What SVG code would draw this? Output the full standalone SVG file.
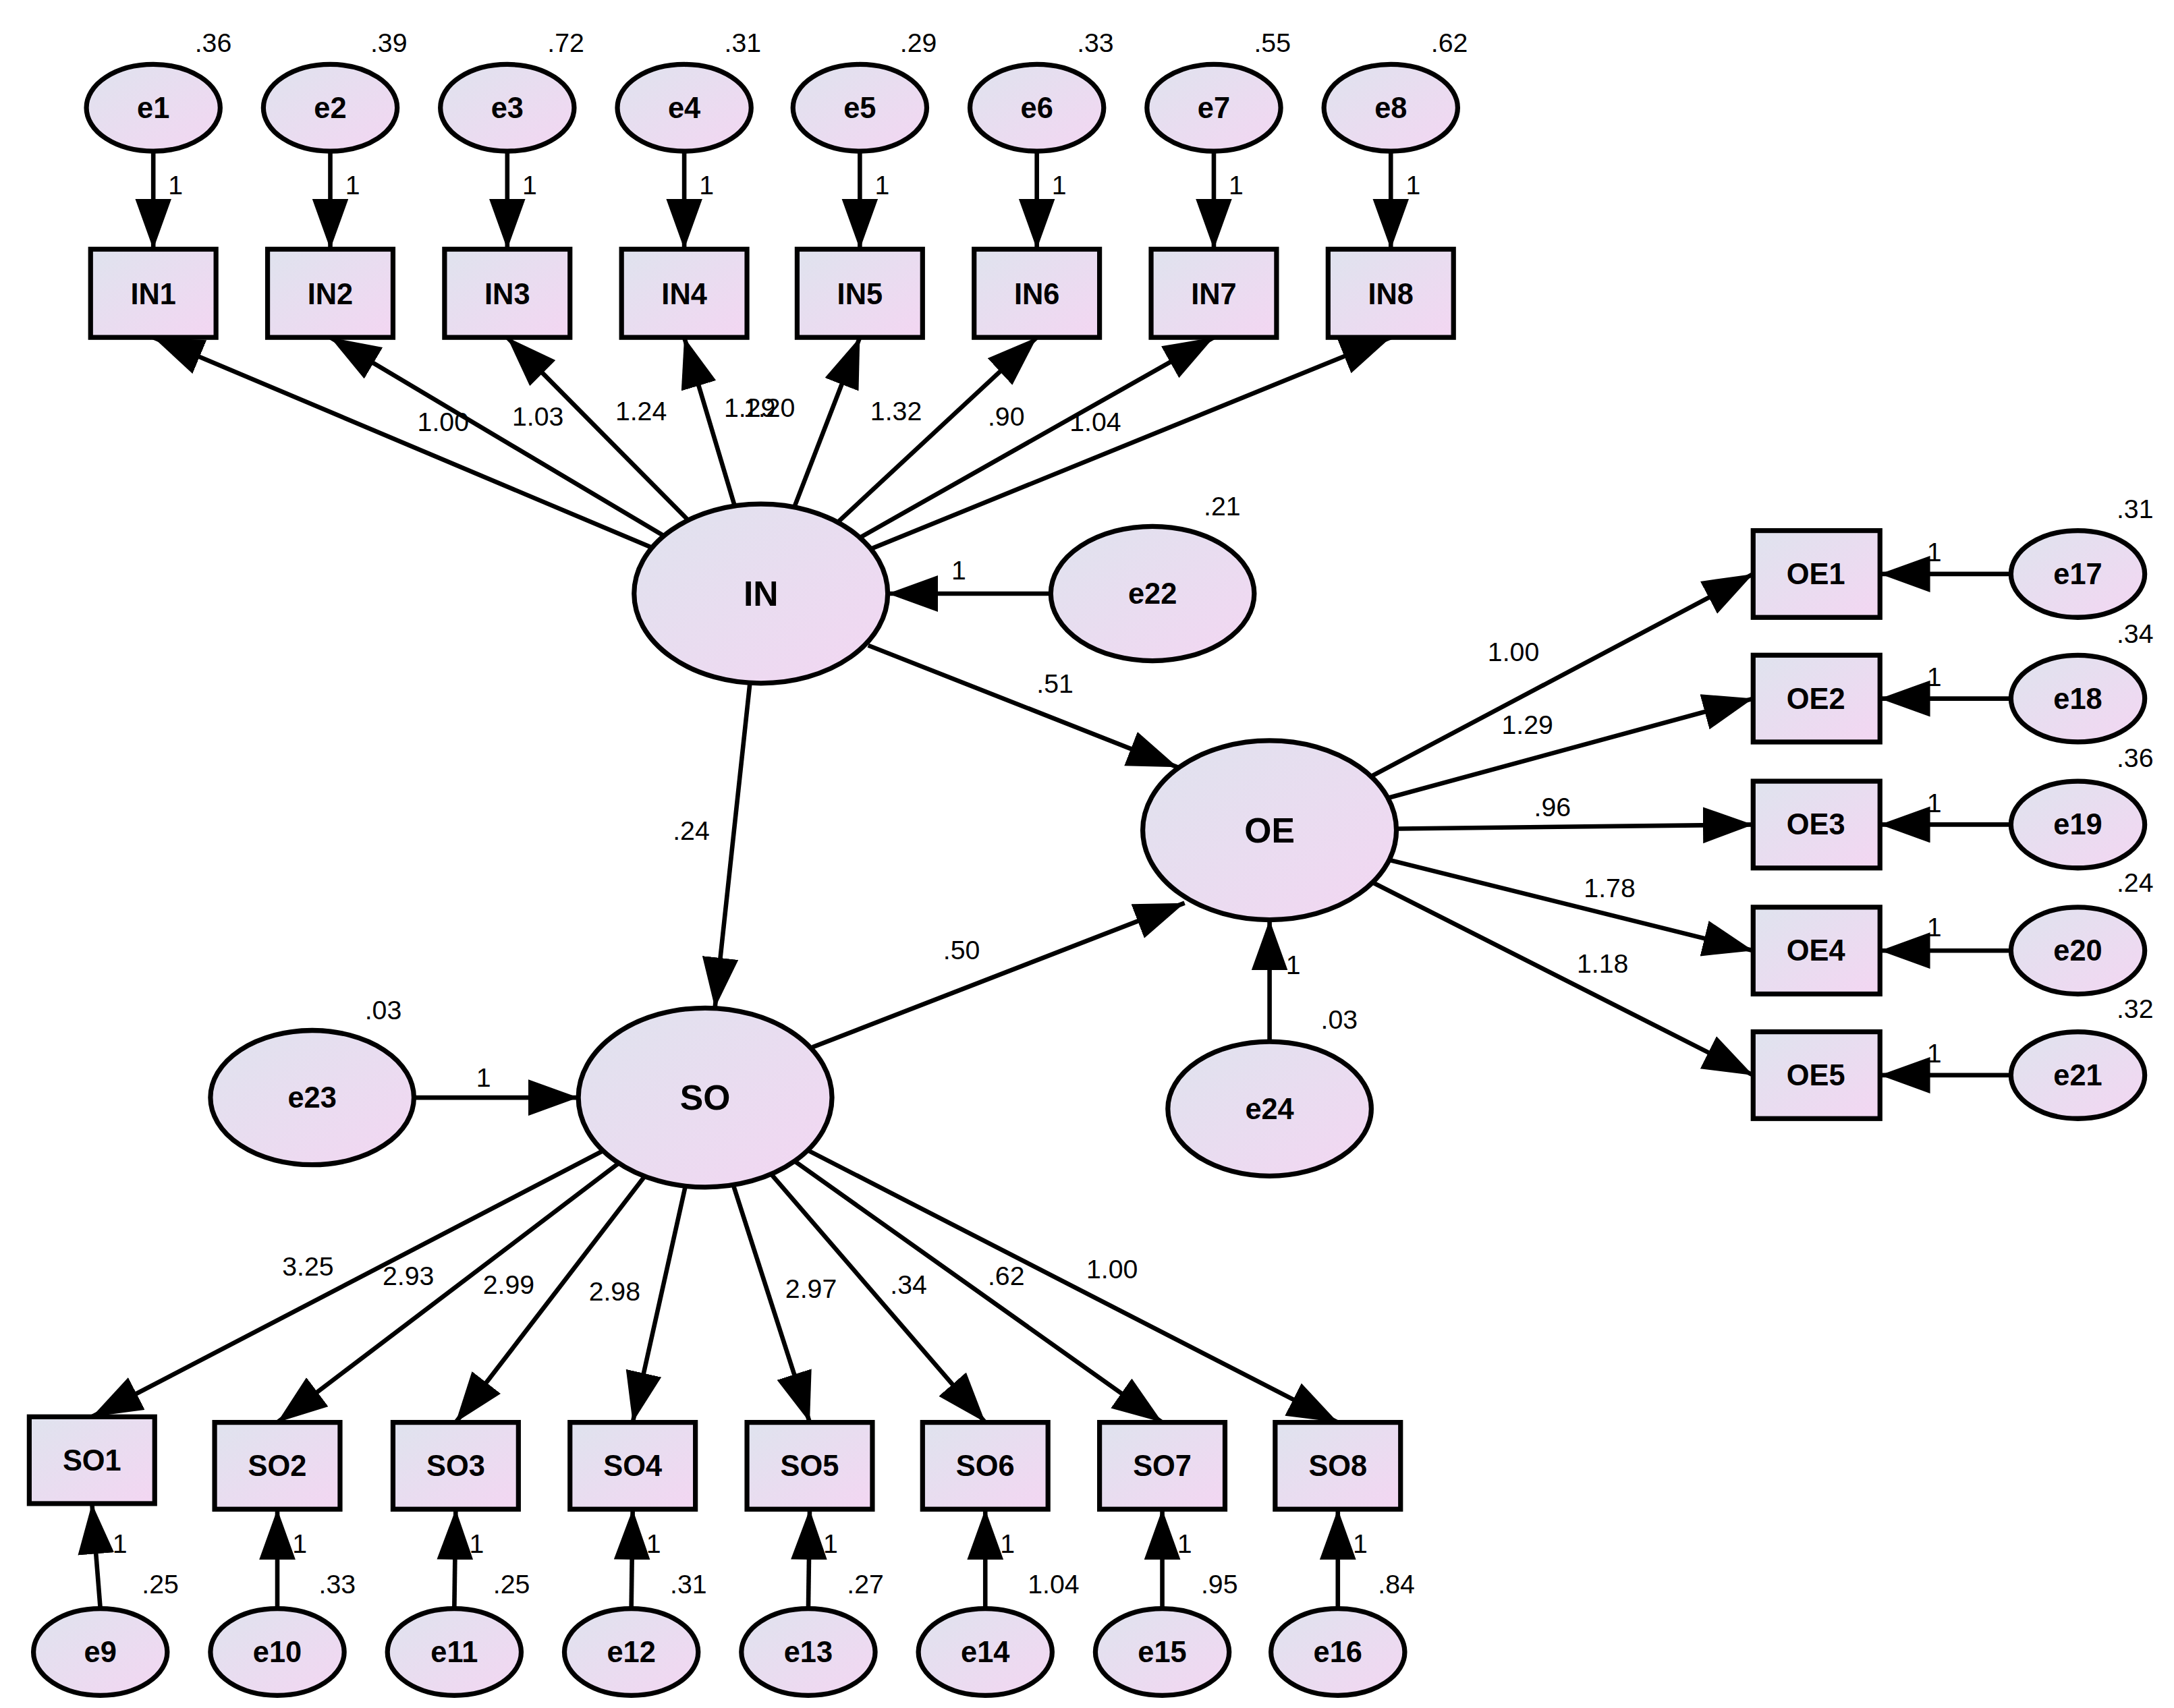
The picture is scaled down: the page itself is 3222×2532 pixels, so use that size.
<svg xmlns="http://www.w3.org/2000/svg" width="3222" height="2532" viewBox="0 0 3222 2532">
<style>
.n{fill:url(#g);stroke:#000;stroke-width:3.5}
.t{font-family:"Liberation Sans",Arial,sans-serif;font-weight:bold;font-size:21px;text-anchor:middle;dominant-baseline:central}
.tb{font-family:"Liberation Sans",Arial,sans-serif;font-weight:bold;font-size:25px;text-anchor:middle;dominant-baseline:central}
.l{font-family:"Liberation Sans",Arial,sans-serif;font-size:19px;text-anchor:middle;fill:#000}
.c{stroke:#000;stroke-width:3.2;fill:none;marker-end:url(#a)}
</style>
<defs>
<linearGradient id="g" x1="0" y1="0" x2="1" y2="1"><stop offset="0" stop-color="#dfe3ee"/><stop offset="1" stop-color="#f3d6f2"/></linearGradient>
<marker id="a" markerUnits="userSpaceOnUse" markerWidth="38" markerHeight="28" refX="36" refY="13" orient="auto"><path d="M0,0 L36,13 L0,26 Z" fill="#000"/></marker>
</defs>
<rect width="3222" height="2532" fill="#fff"/>
<g transform="scale(2.0654 2.0754)">
<g id="connectors">
<line class="c" x1="110" y1="108" x2="110" y2="178"/>
<line class="c" x1="237" y1="108" x2="237" y2="178"/>
<line class="c" x1="364" y1="108" x2="364" y2="178"/>
<line class="c" x1="491" y1="108" x2="491" y2="178"/>
<line class="c" x1="617" y1="108" x2="617" y2="178"/>
<line class="c" x1="744" y1="108" x2="744" y2="178"/>
<line class="c" x1="871" y1="108" x2="871" y2="178"/>
<line class="c" x1="998" y1="108" x2="998" y2="178"/>
<line class="c" x1="546" y1="424" x2="110" y2="241"/>
<line class="c" x1="546" y1="424" x2="237" y2="241"/>
<line class="c" x1="546" y1="424" x2="364" y2="241"/>
<line class="c" x1="546" y1="424" x2="491" y2="241"/>
<line class="c" x1="546" y1="424" x2="617" y2="241"/>
<line class="c" x1="546" y1="424" x2="744" y2="241"/>
<line class="c" x1="546" y1="424" x2="871" y2="241"/>
<line class="c" x1="546" y1="424" x2="998" y2="241"/>
<line class="c" x1="754" y1="424" x2="637" y2="424"/>
<line class="c" x1="623" y1="461" x2="845" y2="548"/>
<line class="c" x1="538" y1="489" x2="513" y2="720"/>
<line class="c" x1="583" y1="748" x2="850" y2="645"/>
<line class="c" x1="298" y1="784" x2="415" y2="784"/>
<line class="c" x1="911" y1="744" x2="911" y2="657"/>
<line class="c" x1="911" y1="593" x2="1258" y2="410"/>
<line class="c" x1="911" y1="593" x2="1258" y2="499"/>
<line class="c" x1="911" y1="593" x2="1258" y2="589"/>
<line class="c" x1="911" y1="593" x2="1258" y2="679"/>
<line class="c" x1="911" y1="593" x2="1258" y2="768"/>
<line class="c" x1="1443" y1="410" x2="1349" y2="410"/>
<line class="c" x1="1443" y1="499" x2="1349" y2="499"/>
<line class="c" x1="1443" y1="589" x2="1349" y2="589"/>
<line class="c" x1="1443" y1="679" x2="1349" y2="679"/>
<line class="c" x1="1443" y1="768" x2="1349" y2="768"/>
<line class="c" x1="506" y1="784" x2="66" y2="1012"/>
<line class="c" x1="506" y1="784" x2="199" y2="1016"/>
<line class="c" x1="506" y1="784" x2="327" y2="1016"/>
<line class="c" x1="506" y1="784" x2="454" y2="1016"/>
<line class="c" x1="506" y1="784" x2="581" y2="1016"/>
<line class="c" x1="506" y1="784" x2="707" y2="1016"/>
<line class="c" x1="506" y1="784" x2="834" y2="1016"/>
<line class="c" x1="506" y1="784" x2="960" y2="1016"/>
<line class="c" x1="72" y1="1149" x2="66" y2="1074"/>
<line class="c" x1="199" y1="1149" x2="199" y2="1078"/>
<line class="c" x1="326" y1="1149" x2="327" y2="1078"/>
<line class="c" x1="453" y1="1149" x2="454" y2="1078"/>
<line class="c" x1="580" y1="1149" x2="581" y2="1078"/>
<line class="c" x1="707" y1="1149" x2="707" y2="1078"/>
<line class="c" x1="834" y1="1149" x2="834" y2="1078"/>
<line class="c" x1="960" y1="1149" x2="960" y2="1078"/>
</g>
<g id="labels">
<text class="l" x="153" y="37">.36</text><text class="l" x="279" y="37">.39</text><text class="l" x="406" y="37">.72</text><text class="l" x="533" y="37">.31</text>
<text class="l" x="659" y="37">.29</text><text class="l" x="786" y="37">.33</text><text class="l" x="913" y="37">.55</text><text class="l" x="1040" y="37">.62</text>
<text class="l" x="126" y="139">1</text><text class="l" x="253" y="139">1</text><text class="l" x="380" y="139">1</text><text class="l" x="507" y="139">1</text>
<text class="l" x="633" y="139">1</text><text class="l" x="760" y="139">1</text><text class="l" x="887" y="139">1</text><text class="l" x="1014" y="139">1</text>
<text class="l" x="318" y="308">1.00</text><text class="l" x="386" y="304">1.03</text><text class="l" x="460" y="300">1.24</text>
<text class="l" x="538" y="298">1.29</text><text class="l" x="552" y="298">1.20</text>
<text class="l" x="643" y="300">1.32</text><text class="l" x="722" y="304">.90</text><text class="l" x="786" y="308">1.04</text>
<text class="l" x="877" y="368">.21</text><text class="l" x="688" y="414">1</text>
<text class="l" x="757" y="495">.51</text><text class="l" x="496" y="600">.24</text><text class="l" x="690" y="685">.50</text>
<text class="l" x="275" y="728">.03</text><text class="l" x="347" y="776">1</text>
<text class="l" x="928" y="696">1</text><text class="l" x="961" y="735">.03</text>
<text class="l" x="1086" y="472">1.00</text><text class="l" x="1096" y="524">1.29</text><text class="l" x="1114" y="583">.96</text>
<text class="l" x="1155" y="641">1.78</text><text class="l" x="1150" y="695">1.18</text>
<text class="l" x="1532" y="370">.31</text><text class="l" x="1532" y="459">.34</text><text class="l" x="1532" y="548">.36</text><text class="l" x="1532" y="637">.24</text><text class="l" x="1532" y="727">.32</text>
<text class="l" x="1388" y="401">1</text><text class="l" x="1388" y="490">1</text><text class="l" x="1388" y="580">1</text><text class="l" x="1388" y="669">1</text><text class="l" x="1388" y="759">1</text>
<text class="l" x="221" y="911">3.25</text><text class="l" x="293" y="918">2.93</text><text class="l" x="365" y="924">2.99</text><text class="l" x="441" y="929">2.98</text>
<text class="l" x="582" y="927">2.97</text><text class="l" x="652" y="924">.34</text><text class="l" x="722" y="918">.62</text><text class="l" x="798" y="913">1.00</text>
<text class="l" x="86" y="1109">1</text><text class="l" x="215" y="1109">1</text><text class="l" x="342" y="1109">1</text><text class="l" x="469" y="1109">1</text>
<text class="l" x="596" y="1109">1</text><text class="l" x="723" y="1109">1</text><text class="l" x="850" y="1109">1</text><text class="l" x="976" y="1109">1</text>
<text class="l" x="115" y="1138">.25</text><text class="l" x="242" y="1138">.33</text><text class="l" x="367" y="1138">.25</text><text class="l" x="494" y="1138">.31</text>
<text class="l" x="621" y="1138">.27</text><text class="l" x="756" y="1138">1.04</text><text class="l" x="875" y="1138">.95</text><text class="l" x="1002" y="1138">.84</text>
</g>
<g id="e1"><ellipse class="n" cx="110" cy="77" rx="48" ry="31"/><text class="t" x="110" y="77">e1</text></g>
<g id="e2"><ellipse class="n" cx="237" cy="77" rx="48" ry="31"/><text class="t" x="237" y="77">e2</text></g>
<g id="e3"><ellipse class="n" cx="364" cy="77" rx="48" ry="31"/><text class="t" x="364" y="77">e3</text></g>
<g id="e4"><ellipse class="n" cx="491" cy="77" rx="48" ry="31"/><text class="t" x="491" y="77">e4</text></g>
<g id="e5"><ellipse class="n" cx="617" cy="77" rx="48" ry="31"/><text class="t" x="617" y="77">e5</text></g>
<g id="e6"><ellipse class="n" cx="744" cy="77" rx="48" ry="31"/><text class="t" x="744" y="77">e6</text></g>
<g id="e7"><ellipse class="n" cx="871" cy="77" rx="48" ry="31"/><text class="t" x="871" y="77">e7</text></g>
<g id="e8"><ellipse class="n" cx="998" cy="77" rx="48" ry="31"/><text class="t" x="998" y="77">e8</text></g>
<g id="IN1"><rect class="n" x="65" y="178" width="90" height="63"/><text class="t" x="110" y="210">IN1</text></g>
<g id="IN2"><rect class="n" x="192" y="178" width="90" height="63"/><text class="t" x="237" y="210">IN2</text></g>
<g id="IN3"><rect class="n" x="319" y="178" width="90" height="63"/><text class="t" x="364" y="210">IN3</text></g>
<g id="IN4"><rect class="n" x="446" y="178" width="90" height="63"/><text class="t" x="491" y="210">IN4</text></g>
<g id="IN5"><rect class="n" x="572" y="178" width="90" height="63"/><text class="t" x="617" y="210">IN5</text></g>
<g id="IN6"><rect class="n" x="699" y="178" width="90" height="63"/><text class="t" x="744" y="210">IN6</text></g>
<g id="IN7"><rect class="n" x="826" y="178" width="90" height="63"/><text class="t" x="871" y="210">IN7</text></g>
<g id="IN8"><rect class="n" x="953" y="178" width="90" height="63"/><text class="t" x="998" y="210">IN8</text></g>
<g id="IN"><ellipse class="n" cx="546" cy="424" rx="91" ry="64"/><text class="tb" x="546" y="424">IN</text></g>
<g id="e22"><ellipse class="n" cx="827" cy="424" rx="73" ry="48"/><text class="t" x="827" y="424">e22</text></g>
<g id="OE"><ellipse class="n" cx="911" cy="593" rx="91" ry="64"/><text class="tb" x="911" y="593">OE</text></g>
<g id="SO"><ellipse class="n" cx="506" cy="784" rx="91" ry="64"/><text class="tb" x="506" y="784">SO</text></g>
<g id="e23"><ellipse class="n" cx="224" cy="784" rx="73" ry="48"/><text class="t" x="224" y="784">e23</text></g>
<g id="e24"><ellipse class="n" cx="911" cy="792" rx="73" ry="48"/><text class="t" x="911" y="792">e24</text></g>
<g id="OE1"><rect class="n" x="1258" y="379" width="91" height="62"/><text class="t" x="1303" y="410">OE1</text></g>
<g id="OE2"><rect class="n" x="1258" y="468" width="91" height="62"/><text class="t" x="1303" y="499">OE2</text></g>
<g id="OE3"><rect class="n" x="1258" y="558" width="91" height="62"/><text class="t" x="1303" y="589">OE3</text></g>
<g id="OE4"><rect class="n" x="1258" y="648" width="91" height="62"/><text class="t" x="1303" y="679">OE4</text></g>
<g id="OE5"><rect class="n" x="1258" y="737" width="91" height="62"/><text class="t" x="1303" y="768">OE5</text></g>
<g id="e17"><ellipse class="n" cx="1491" cy="410" rx="48" ry="31"/><text class="t" x="1491" y="410">e17</text></g>
<g id="e18"><ellipse class="n" cx="1491" cy="499" rx="48" ry="31"/><text class="t" x="1491" y="499">e18</text></g>
<g id="e19"><ellipse class="n" cx="1491" cy="589" rx="48" ry="31"/><text class="t" x="1491" y="589">e19</text></g>
<g id="e20"><ellipse class="n" cx="1491" cy="679" rx="48" ry="31"/><text class="t" x="1491" y="679">e20</text></g>
<g id="e21"><ellipse class="n" cx="1491" cy="768" rx="48" ry="31"/><text class="t" x="1491" y="768">e21</text></g>
<g id="SO1"><rect class="n" x="21" y="1012" width="90" height="62"/><text class="t" x="66" y="1043">SO1</text></g>
<g id="SO2"><rect class="n" x="154" y="1016" width="90" height="62"/><text class="t" x="199" y="1047">SO2</text></g>
<g id="SO3"><rect class="n" x="282" y="1016" width="90" height="62"/><text class="t" x="327" y="1047">SO3</text></g>
<g id="SO4"><rect class="n" x="409" y="1016" width="90" height="62"/><text class="t" x="454" y="1047">SO4</text></g>
<g id="SO5"><rect class="n" x="536" y="1016" width="90" height="62"/><text class="t" x="581" y="1047">SO5</text></g>
<g id="SO6"><rect class="n" x="662" y="1016" width="90" height="62"/><text class="t" x="707" y="1047">SO6</text></g>
<g id="SO7"><rect class="n" x="789" y="1016" width="90" height="62"/><text class="t" x="834" y="1047">SO7</text></g>
<g id="SO8"><rect class="n" x="915" y="1016" width="90" height="62"/><text class="t" x="960" y="1047">SO8</text></g>
<g id="e9"><ellipse class="n" cx="72" cy="1180" rx="48" ry="31"/><text class="t" x="72" y="1180">e9</text></g>
<g id="e10"><ellipse class="n" cx="199" cy="1180" rx="48" ry="31"/><text class="t" x="199" y="1180">e10</text></g>
<g id="e11"><ellipse class="n" cx="326" cy="1180" rx="48" ry="31"/><text class="t" x="326" y="1180">e11</text></g>
<g id="e12"><ellipse class="n" cx="453" cy="1180" rx="48" ry="31"/><text class="t" x="453" y="1180">e12</text></g>
<g id="e13"><ellipse class="n" cx="580" cy="1180" rx="48" ry="31"/><text class="t" x="580" y="1180">e13</text></g>
<g id="e14"><ellipse class="n" cx="707" cy="1180" rx="48" ry="31"/><text class="t" x="707" y="1180">e14</text></g>
<g id="e15"><ellipse class="n" cx="834" cy="1180" rx="48" ry="31"/><text class="t" x="834" y="1180">e15</text></g>
<g id="e16"><ellipse class="n" cx="960" cy="1180" rx="48" ry="31"/><text class="t" x="960" y="1180">e16</text></g>
</g>
</svg>
